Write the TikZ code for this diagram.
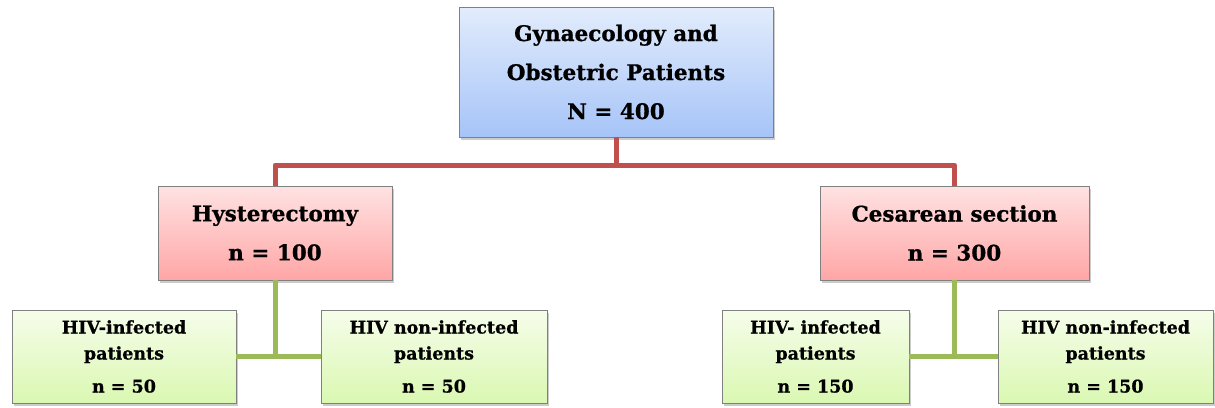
\documentclass[tikz,border=0pt]{standalone}
\usepackage{fontspec}
\setmainfont{DejaVu Serif}[BoldFeatures={FakeBold=0.8}]
\usetikzlibrary{positioning, shadows}
\definecolor{topfill}{RGB}{226,236,252}
\definecolor{botfill}{RGB}{166,196,248}
\definecolor{pinktop}{RGB}{255,226,226}
\definecolor{pinkbot}{RGB}{255,166,166}
\definecolor{grntop}{RGB}{246,253,234}
\definecolor{grnbot}{RGB}{218,248,178}
\definecolor{redline}{RGB}{192,80,77}
\definecolor{grnline}{RGB}{155,187,89}
\definecolor{boxline}{RGB}{128,128,128}

\begin{document}
\begin{tikzpicture}[
  x=1pt, y=-1pt,
  box/.style={draw=boxline, line width=0.8pt, align=center, inner sep=2pt,
              font=\bfseries\fontsize{21.5}{39}\selectfont,
              drop shadow={shadow xshift=1.5pt, shadow yshift=-3pt, opacity=0.4}},
  rootbox/.style={box, top color=topfill, bottom color=botfill,
                  minimum width=314pt, minimum height=130pt},
  armbox/.style={box, top color=pinktop, bottom color=pinkbot, minimum height=94pt},
  leafbox/.style={box, top color=grntop, bottom color=grnbot, minimum height=93pt,
                  font=\bfseries\fontsize{17.5}{26}\selectfont},
  redlink/.style={draw=redline, line width=5pt, line join=round},
  grnlink/.style={draw=grnline, line width=5pt, line join=round},
]
\useasboundingbox (0,0) rectangle (1215,407);

\node[rootbox] (all) at (616,72) {Gynaecology and\\Obstetric Patients\\N = 400};

\node[armbox, minimum width=234pt] (hyst) at (275,233) {Hysterectomy\\n = 100};
\node[armbox, minimum width=269pt] (ces) at (954.5,233) {Cesarean section\\n = 300};

\node[leafbox, minimum width=224pt] (hpos) at (124,356.5) {HIV-infected\\patients\\[7pt]n = 50};
\node[leafbox, minimum width=226pt] (hneg) at (434,356.5) {HIV non-infected\\patients\\[7pt]n = 50};
\node[leafbox, minimum width=187pt] (cpos) at (815.5,356.5) {HIV- infected\\patients\\[7pt]n = 150};
\node[leafbox, minimum width=215pt] (cneg) at (1105.5,356.5) {HIV non-infected\\patients\\[7pt]n = 150};

\coordinate (split) at (616,165);

\draw[redlink] (all.south) -- (split) -| (hyst.north);
\draw[redlink] (split) -| (ces.north);

\foreach \a/\b/\c in {hyst/hpos/hneg, ces/cpos/cneg} {
  \draw[grnlink] (\a.south) -- (\a.south |- \b.east);
  \draw[grnlink] (\b.east) -- (\c.west);
}
\end{tikzpicture}
\end{document}
